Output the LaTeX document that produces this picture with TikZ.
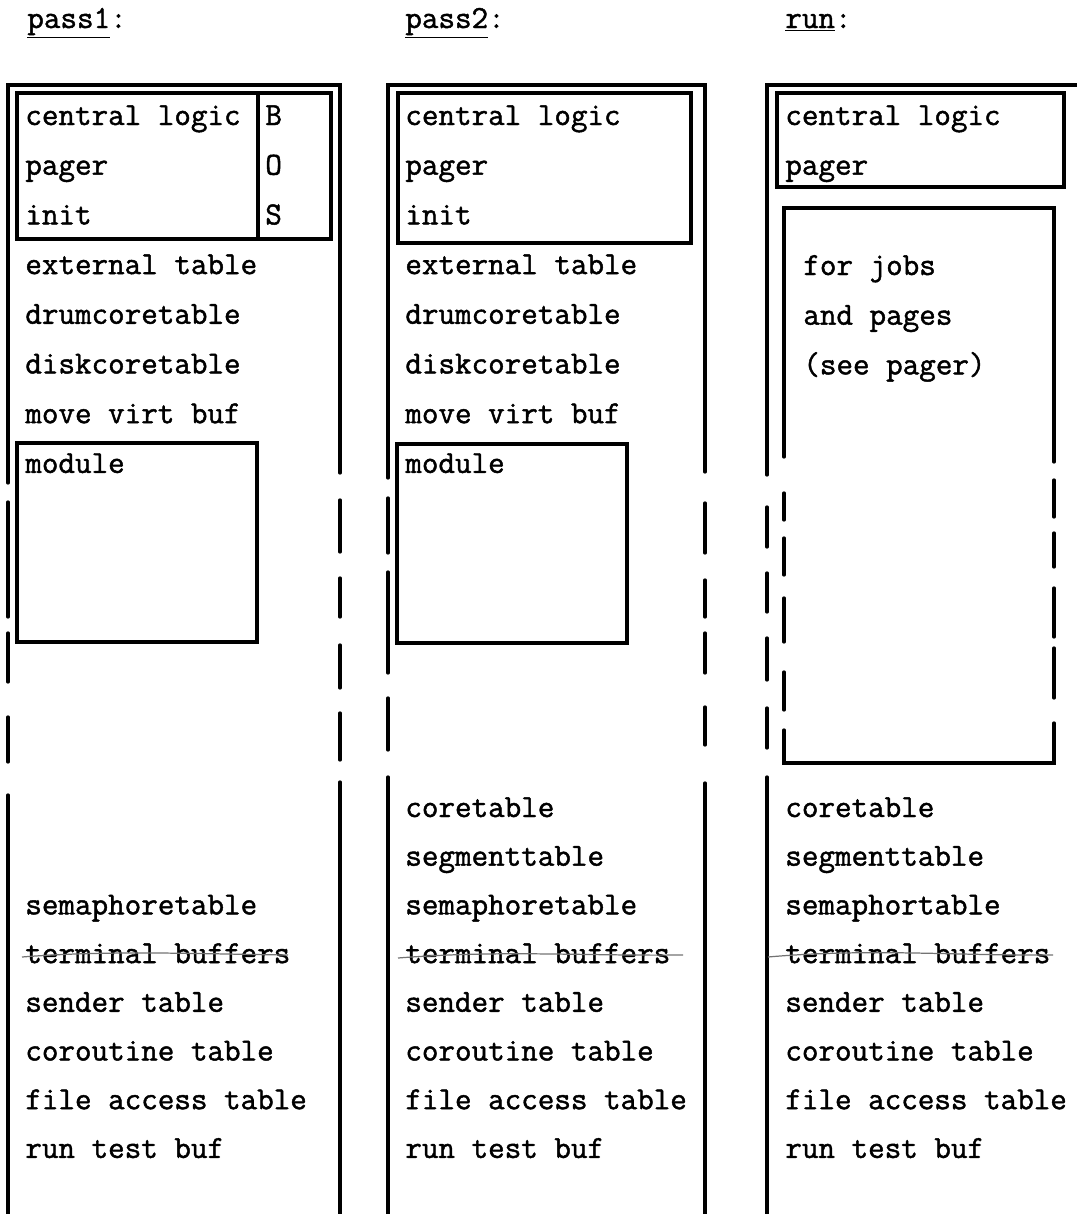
\documentclass[tikz,border=0pt]{standalone}
\usepackage{fontspec}
\newfontfamily\typewr{Latin Modern Mono}[FakeBold=1.4]
\usepackage{tikz}
\usetikzlibrary{calc,positioning}

\tikzset{
  wall/.style={line width=1.9pt,line cap=round,line join=miter},
  frame/.style={line width=1.9pt,line join=miter},
  entry/.style={anchor=base west,inner sep=0pt,font=\fontsize{18.3}{20}\selectfont\typewr},
  strike/.style={black!55,line width=0.7pt}
}

\begin{document}
\begin{tikzpicture}[x=0.02cm,y=-0.02cm]
 \useasboundingbox (0,0) rectangle (1076,1214);
 \node[entry] (h1) at (27,28) {\underline{pass1}:};
 \node[entry] (h2) at (405,28) {\underline{pass2}:};
 \node[entry] (h3) at (785,28) {\underline{run}:};

 % pass1
 \draw[wall] (8,483) -- (8,85) -- (340,85) -- (340,473);
 \foreach \a/\b in {502/617,633/682,717/762,795/1220} \draw[wall] (8,\a) -- (8,\b);
 \foreach \a/\b in {500/552,578/617,645/688,713/760,782/1220} \draw[wall] (340,\a) -- (340,\b);
 \draw[frame] (17,93) rectangle (331,239); \draw[frame] (258,93) -- (258,239);
 \draw[frame] (17,443) rectangle (257,642);
 \foreach \t [count=\i] in {central logic,pager,init,external table,drumcoretable,diskcoretable,move virt buf,module}
   \node[entry] (p1u\i) at (25,{125+49.7*(\i-1)}) {\t};
 \foreach \t [count=\i] in {B,O,S}
   \node[entry] (bos\i) at (265,{125+49.7*(\i-1)}) {\t};
 \foreach \t [count=\i] in {semaphoretable,terminal buffers,sender table,coroutine table,file access table,run test buf}
   \node[entry] (p1l\i) at (25,{914.4+48.7*(\i-1)}) {\t};
 \draw[strike] (22,957) .. controls (110,950) and (200,954) .. (288,955);

 % pass2
 \draw[wall] (388,478) -- (388,85) -- (705,85) -- (705,472);
 \foreach \a/\b in {498/553,572/673,698/750,777/1220} \draw[wall] (388,\a) -- (388,\b);
 \foreach \a/\b in {503/553,580/617,633/673,707/745,783/1220} \draw[wall] (705,\a) -- (705,\b);
 \draw[frame] (398,93) rectangle (691,243);
 \draw[frame] (397,444) rectangle (627,643);
 \foreach \t [count=\i] in {central logic,pager,init,external table,drumcoretable,diskcoretable,move virt buf,module}
   \node[entry] (p2u\i) at (405,{125+49.7*(\i-1)}) {\t};
 \foreach \t [count=\i] in {coretable,segmenttable,semaphoretable,terminal buffers,sender table,coroutine table,file access table,run test buf}
   \node[entry] (p2l\i) at (405,{817+48.7*(\i-1)}) {\t};
 \draw[strike] (398,958) .. controls (500,950) and (580,956) .. (683,955);

 % run
 \draw[wall] (767,475) -- (767,85) -- (1080,85);
 \foreach \a/\b in {507/547,573/612,638/680,708/748,777/1220} \draw[wall] (767,\a) -- (767,\b);
 \draw[frame] (777,93) rectangle (1064,187);
 \draw[wall] (784,457) -- (784,208) -- (1054,208) -- (1054,462);
 \draw[wall] (784,730) -- (784,763) -- (1054,763) -- (1054,723);
 \foreach \a/\b in {493/520,538/575,598/642,672/710} \draw[wall] (784,\a) -- (784,\b);
 \foreach \a/\b in {480/517,533/567,588/637,648/698} \draw[wall] (1054,\a) -- (1054,\b);
 \foreach \t [count=\i] in {central logic,pager}
   \node[entry] (r\i) at (785,{125+49.7*(\i-1)}) {\t};
 \foreach \t [count=\i] in {for jobs,and pages,(see pager)}
   \node[entry] (rb\i) at (803,{275+49.7*(\i-1)}) {\t};
 \foreach \t [count=\i] in {coretable,segmenttable,semaphortable,terminal buffers,sender table,coroutine table,file access table,run test buf}
   \node[entry] (rl\i) at (785,{817+48.7*(\i-1)}) {\t};
 \draw[strike] (768,957) .. controls (870,948) and (960,956) .. (1053,955);
\end{tikzpicture}
\end{document}
